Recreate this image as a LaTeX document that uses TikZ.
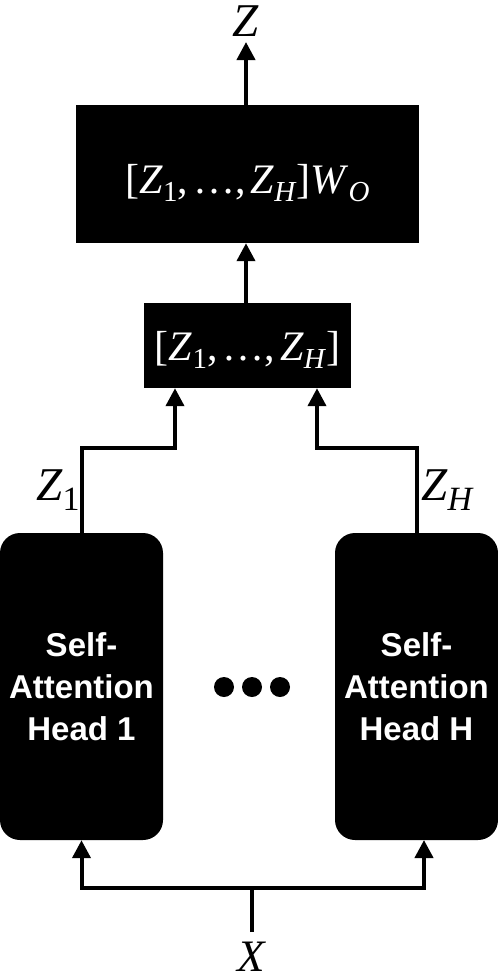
\documentclass[tikz,border=0pt]{standalone}
\usepackage{fontspec}
\setmainfont{Liberation Serif}
\newfontfamily\hsans{Liberation Sans}
\usetikzlibrary{arrows.meta,calc}
\newcommand\sbig[1]{\raisebox{-8pt}{\fontsize{29}{29}\selectfont #1}}
\newcommand\slab[1]{\raisebox{-10pt}{\fontsize{34}{34}\selectfont #1}}
\newcommand\sep{,\hspace{0.12em}}
\begin{document}
\begin{tikzpicture}[x=1pt,y=1pt,
  blk/.style={fill=black,draw=none,inner sep=0pt,text=white},
  head/.style={blk,rounded corners=20pt,minimum width=163pt,minimum height=307pt,
     font=\hsans\bfseries\fontsize{33}{42}\selectfont,align=center},
  arr/.style={line width=4pt,-{Triangle[length=18pt,width=18pt]}},
  ln/.style={line width=4pt},
  lbl/.style={inner sep=0pt,anchor=base},
  dot/.style={circle,fill=black,inner sep=0pt,minimum size=20pt}]
\useasboundingbox (0,0) rectangle (498,-980);
% boxes
\node[blk,minimum width=343pt,minimum height=138pt] (top) at (247.5,-174) {};
\node[lbl,text=white,font=\fontsize{42}{42}\selectfont] (toptxt) at (247.5,-193)
  {[\textit{Z}\sbig{1}\sep…\sep\textit{Z}\sbig{\textit{H}}]\textit{W}\sbig{\textit{O}}};
\node[blk,minimum width=207pt,minimum height=85pt] (mid) at (247.5,-345.5) {};
\node[lbl,text=white,font=\fontsize{42}{42}\selectfont] (midtxt) at (247.5,-360)
  {[\textit{Z}\sbig{1}\sep…\sep\textit{Z}\sbig{\textit{H}}]};
\node[head] (lh) at (81.5,-686.5) {Self-\\Attention\\Head 1};
\node[head] (rh) at (416.5,-686.5) {Self-\\Attention\\Head H};
% dots
\node[dot] (d1) at (224,-687) {};
\node[dot] (d2) at (252,-687) {};
\node[dot] (d3) at (280,-687) {};
% labels
\node[lbl,font=\fontsize{47}{47}\selectfont] (zout) at (246,-36) {\textit{Z}};
\node[lbl,font=\fontsize{45}{45}\selectfont] (xin) at (252,-971) {\textit{X}};
\node[lbl,anchor=base west,font=\fontsize{47}{47}\selectfont] (z1) at (36,-500) {\textit{Z}\slab{1}};
\node[lbl,anchor=base west,font=\fontsize{47}{47}\selectfont] (zh) at (421,-500) {\textit{Z}\slab{\textit{H}}};
% coordinates
\coordinate (ztip) at (246,-42);
\coordinate (j1) at (175,-448);
\coordinate (jh) at (317,-448);
\coordinate (xs) at (252,-932);
\coordinate (jx) at (252,-888);
\coordinate (rin) at (424,-840);
% connectors
\draw[arr] (top.north -| ztip) -- (ztip);
\draw[arr] (mid.north -| ztip) -- (top.south -| ztip);
\draw[arr] (lh.north) |- (j1) -- (j1 |- mid.south);
\draw[arr] (rh.north) |- (jh) -- (jh |- mid.south);
\draw[ln] (xs) -- (jx);
\draw[arr] (jx) -| (lh.south);
\draw[arr] (jx) -| (rin);
\end{tikzpicture}
\end{document}
